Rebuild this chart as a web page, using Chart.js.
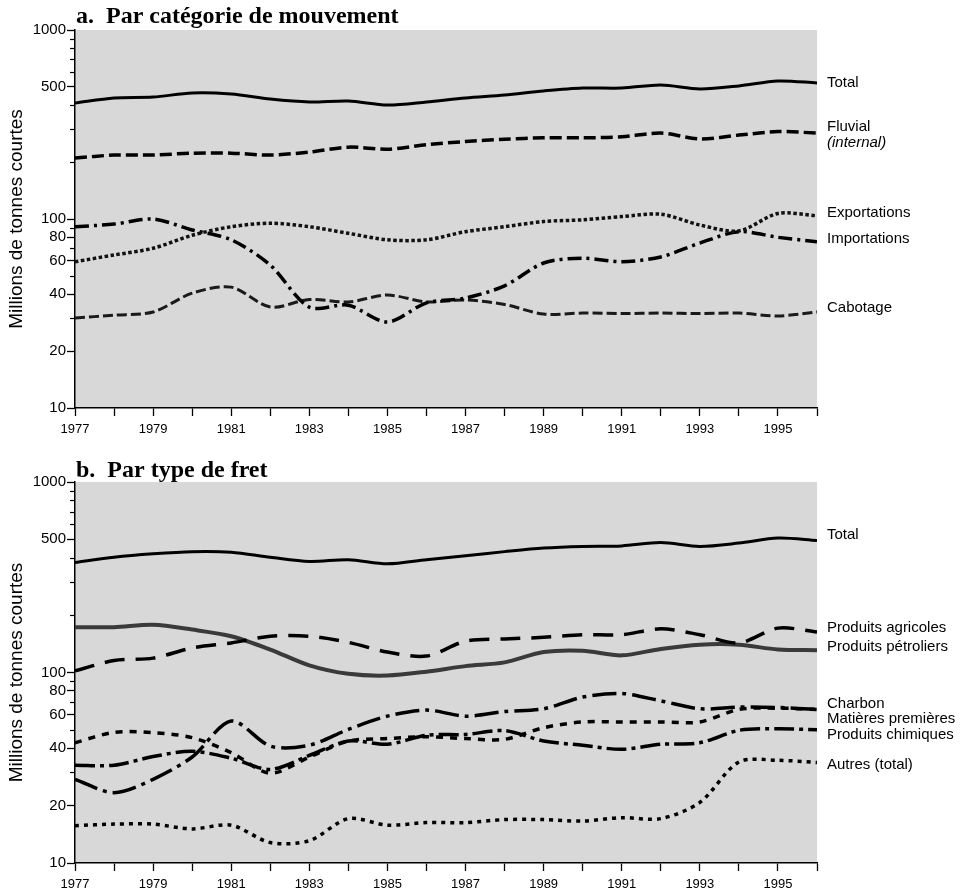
<!DOCTYPE html>
<html>
<head>
  <meta charset="UTF-8">
  <title>Trafic par voie d'eau</title>
  <script src="https://cdn.jsdelivr.net/npm/chart.js"></script>
  <style>
    body { margin: 0; background: #fff; }
    .panel { position: absolute; left: 0; width: 976px; }
    #panelA { top: 0; height: 440px; }
    #panelB { top: 440px; height: 452px; }
  </style>
</head>
<body>
  <div class="panel" id="panelA"><canvas id="chartA" width="976" height="440"></canvas></div>
  <div class="panel" id="panelB"><canvas id="chartB" width="976" height="452"></canvas></div>

  <script>
    // Années
    const years = [1977, 1978, 1979, 1980, 1981, 1982, 1983, 1984, 1985, 1986,
                   1987, 1988, 1989, 1990, 1991, 1992, 1993, 1994, 1995, 1996];

    // a. Par catégorie de mouvement (millions de tonnes courtes)
    const totalA    = [411, 437, 442, 464, 458, 431, 416, 421, 401, 416, 437, 453, 476, 493, 493, 512, 488, 506, 537, 525];
    const fluvialA  = [210, 218, 218, 223, 223, 218, 226, 240, 234, 247, 257, 264, 269, 269, 272, 285, 265, 278, 290, 285];
    const exportsA  = [59.4, 64.5, 70, 82, 91, 95, 91, 84, 77.6, 77.6, 85.7, 91, 97, 99, 103, 106, 93, 86.5, 107, 104];
    const importsA  = [91, 94, 100, 87.5, 77.6, 57, 34.2, 35, 28.5, 36, 38.2, 44.3, 58.5, 62, 59.4, 63, 74.6, 85.7, 80, 75.8];
    const cabotageA = [29.9, 31, 32.2, 40.5, 43.6, 34.2, 37.5, 36.4, 39.6, 36.4, 37.3, 35.3, 31.4, 31.8, 31.6, 31.8, 31.6, 31.8, 30.7, 32.2];
    const namesA = ['Total', ['Fluvial', '(internal)'], 'Exportations', 'Importations', 'Cabotage'];

    // b. Par type de fret
    const totalB      = [378, 403, 420, 431, 428, 403, 383, 391, 372, 391, 410, 431, 450, 459, 462, 481, 459, 478, 508, 493];
    const agricolesB  = [102, 115.6, 119, 134.6, 143, 155, 155, 144, 128, 122, 146, 150, 153, 158, 158, 169.5, 158, 143, 171, 163];
    const petroliersB = [173, 173, 178, 168, 155, 132, 109, 98.4, 96.4, 101, 108, 113, 128, 130, 123, 133, 140, 140, 132, 131];
    const charbonB    = [27.5, 23.4, 27.5, 36, 55.6, 41.1, 41.5, 50.3, 59, 63.5, 59, 62.4, 64.5, 74.3, 77.6, 71, 64.5, 65.8, 65.5, 64];
    const matieresB   = [42.8, 48.5, 48.3, 45.5, 38, 29.6, 36, 43.6, 45, 46, 45, 44.6, 51.3, 55, 55, 55, 55, 64, 65, 64];
    const chimiquesB  = [32.6, 32.6, 36.2, 38.6, 35.5, 31, 36.7, 43.7, 42, 46.8, 47.3, 49.5, 43.7, 41.5, 39.5, 42, 42.8, 49.7, 50.7, 50];
    const autresB     = [15.7, 16, 16, 15.1, 15.8, 12.8, 13.1, 17.1, 15.8, 16.3, 16.3, 16.9, 16.9, 16.6, 17.3, 17.1, 20.8, 33.9, 34.6, 33.7];
    const namesB = ['Total', 'Produits agricoles', 'Produits pétroliers', 'Charbon',
                    'Matières premières', 'Produits chimiques', 'Autres (total)'];

    // Graduations
    const yTickValues  = [10, 20, 40, 60, 80, 100, 500, 1000];
    const yMinorValues = [30, 50, 70, 90, 200, 300, 400, 600, 700, 800, 900];

    const sans = '"Liberation Sans", Arial, Helvetica, sans-serif';

    // fond grisé de la zone de tracé
    const plotBackground = {
      id: 'plotBackground',
      beforeDraw(chart) {
        const { ctx, chartArea: a } = chart;
        ctx.save();
        ctx.fillStyle = '#fff';
        ctx.fillRect(0, 0, chart.width, chart.height);
        ctx.fillStyle = '#d8d8d8';
        ctx.fillRect(a.left, a.top, a.right - a.left, a.bottom - a.top);
        ctx.restore();
      }
    };

    // petites graduations, titre du panneau et étiquettes en bout de courbe
    const annotations = {
      id: 'annotations',
      afterDraw(chart, args, opts) {
        const { ctx, chartArea: a } = chart;
        const ys = chart.scales.y;
        ctx.save();
        ctx.strokeStyle = '#000';
        ctx.lineWidth = 1.2;
        yMinorValues.forEach(v => {
          const py = Math.round(ys.getPixelForValue(v)) + 0.5;
          ctx.beginPath();
          ctx.moveTo(a.left - 5, py);
          ctx.lineTo(a.left, py);
          ctx.stroke();
        });

        ctx.fillStyle = '#000';
        ctx.textBaseline = 'alphabetic';
        ctx.font = 'bold 24px "Liberation Serif", "Times New Roman", serif';
        ctx.fillText(opts.title, a.left + 1, a.top + opts.titleOffset);

        ctx.textBaseline = 'middle';
        chart.data.datasets.forEach((ds, i) => {
          const meta = chart.getDatasetMeta(i);
          const last = meta.data[meta.data.length - 1];
          const y = last.y + opts.nudge[i];
          const x = a.right + 10;
          if (Array.isArray(ds.label)) {
            ctx.font = '15px ' + sans;
            ctx.fillText(ds.label[0], x, y);
            ctx.font = 'italic 15px ' + sans;
            ctx.fillText(ds.label[1], x, y + 16);
          } else {
            ctx.font = '15px ' + sans;
            ctx.fillText(ds.label, x, y);
          }
        });
        ctx.restore();
      }
    };

    function makeChart(id, names, series, styles, opts) {
      const datasets = series.map((s, i) => ({
        label: names[i],
        data: years.map((yr, k) => ({ x: yr, y: s[k] })),
        borderColor: styles[i].color,
        borderWidth: styles[i].width,
        borderDash: styles[i].dash,
        borderCapStyle: 'butt',
        pointRadius: 0,
        tension: 0.3,
        fill: false
      }));

      return new Chart(document.getElementById(id), {
        type: 'line',
        data: { datasets },
        plugins: [plotBackground, annotations],
        options: {
          responsive: false,
          animation: false,
          layout: { padding: { left: 0, right: 159, top: opts.top, bottom: 0 } },
          plugins: {
            legend: { display: false },
            tooltip: { enabled: false },
            annotations: opts
          },
          scales: {
            x: {
              type: 'linear',
              min: 1977,
              max: 1996,
              afterFit(scale) { scale.height = opts.xHeight; },
              ticks: {
                stepSize: 1,
                autoSkip: false,
                maxRotation: 0,
                padding: 6,
                color: '#000',
                font: { family: sans, size: 13 },
                callback: v => (v % 2 === 1 ? String(v) : '')
              },
              grid: { drawOnChartArea: false, tickLength: 8, tickColor: '#000', tickWidth: 1.3 },
              border: { color: '#000', width: 1.5 }
            },
            y: {
              type: 'logarithmic',
              min: 10,
              max: 1000,
              afterBuildTicks(scale) { scale.ticks = yTickValues.map(v => ({ value: v })); },
              afterFit(scale) { scale.width = 75; },
              ticks: {
                padding: 1,
                color: '#000',
                font: { family: sans, size: 15 },
                callback: v => String(v)
              },
              grid: { drawOnChartArea: false, tickLength: 8, tickColor: '#000', tickWidth: 1.3 },
              border: { color: '#000', width: 1.5 },
              title: {
                display: true,
                text: 'Millions de tonnes courtes',
                color: '#000',
                font: { family: sans, size: 19 },
                padding: { top: 5, bottom: 0 }
              }
            }
          }
        }
      });
    }

    makeChart('chartA', namesA,
      [totalA, fluvialA, exportsA, importsA, cabotageA],
      [
        { color: '#000', width: 3, dash: [] },
        { color: '#000', width: 3.5, dash: [12, 5] },
        { color: '#111', width: 3.5, dash: [3.5, 2.5] },
        { color: '#000', width: 3.5, dash: [14, 5, 3, 5] },
        { color: '#1a1a1a', width: 3, dash: [10, 4] }
      ],
      { title: 'a.  Par catégorie de mouvement', titleOffset: -7, top: 30, xHeight: 32,
        nudge: [0, -6, -3, -3, -4] });

    makeChart('chartB', namesB,
      [totalB, agricolesB, petroliersB, charbonB, matieresB, chimiquesB, autresB],
      [
        { color: '#000', width: 3, dash: [] },
        { color: '#000', width: 3.5, dash: [20, 11] },
        { color: '#3a3a3a', width: 4, dash: [] },
        { color: '#000', width: 3.5, dash: [24, 6, 4, 6] },
        { color: '#000', width: 3.5, dash: [7, 7] },
        { color: '#000', width: 3.5, dash: [20, 5, 4, 5] },
        { color: '#000', width: 3.5, dash: [4, 5] }
      ],
      { title: 'b.  Par type de fret', titleOffset: -5, top: 42, xHeight: 29,
        nudge: [-6, -4, -3, -6, 9, 5, 2] });
  </script>
</body>
</html>
